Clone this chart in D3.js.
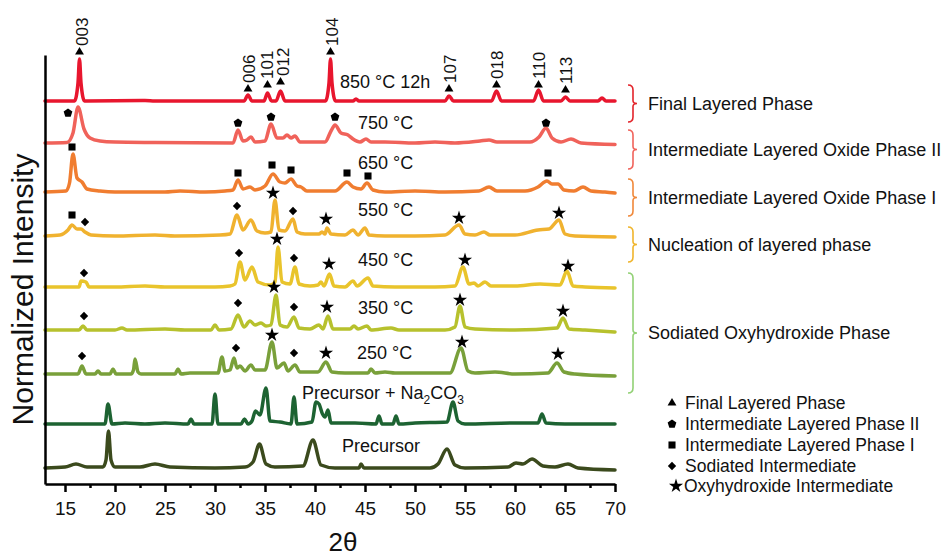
<!DOCTYPE html>
<html>
<head>
<meta charset="utf-8">
<style>
  body { margin: 0; background: #fff; }
  svg { font-family: "Liberation Sans", Arial, sans-serif; }
  .trace { fill: none; stroke-width: 3.5px; stroke-linejoin: round; stroke-linecap: round; }
  .axis path, .axis line { stroke: #000; stroke-width: 2.5px; }
  .axis text { font-size: 19px; fill: #111; font-family: "Liberation Sans", Arial, sans-serif; }
</style>
</head>
<body>
<svg width="946" height="556"></svg>
<script src="https://d3js.org/d3.v7.min.js"></script>
<script>

// sample names, top to bottom
var samples = ["850 °C 12h", "750 °C", "650 °C", "550 °C", "450 °C", "350 °C", "250 °C", "Precursor + Na2CO3", "Precursor"];
var colors = ["#e8162e", "#f0625a", "#f07d30", "#f0b22f", "#e9c42c", "#b7c12d", "#79a03a", "#1d6332", "#3b4a1d"];
// vertical offset of each pattern (intensity units)
var offsets = [383, 341, 292, 248, 197, 154, 110, 60, 16];

// patterns: [2theta, intensity above its own baseline]
var p850 = [[13,0],[15.95,0],[16.3,18],[16.45,42],[16.6,18],[16.95,0],[23,0.5],[24,0],[32.9,0],[33.3,6],[33.7,0],[34.9,0],[35.25,8],[35.65,0],[36.1,0],[36.55,10],[37,0],[41.05,0],[41.4,18],[41.55,42],[41.7,18],[42.05,0],[43.8,0],[44.1,2],[44.4,0],[53,0],[53.4,5],[53.85,0],[57.65,0],[58.15,10],[58.65,0],[61.85,0],[62.35,11],[62.85,0],[64.6,0],[65.05,4],[65.5,0],[68.3,0],[68.7,3],[69.1,0],[70,0]];
var p750 = [[13,0],[15.2,0.5],[15.8,10],[16.3,36],[16.9,14],[17.5,5],[18.5,2],[20,1],[24,0.5],[31.8,0],[32.3,13],[32.8,2],[33.2,3],[33.6,6],[34.0,1],[35.0,2],[35.6,19],[36.2,5],[36.8,5],[37.2,8],[37.6,5],[38.0,7],[38.5,1],[41.0,1],[41.6,12],[42.0,18],[42.6,10],[43.3,8],[43.8,4],[44.5,1],[45.1,4],[45.6,1],[47,1],[50,0],[52,1],[54,0],[56.5,2],[57.4,3],[58.2,1],[61.5,1],[62.4,6],[63.1,15],[63.7,5],[64.6,1],[65.6,4],[66.6,0],[70,-1.5]];
var p650 = [[13,0],[15.1,1],[15.45,9],[15.8,38],[16.2,14],[16.7,10],[17.2,3],[18.5,1],[20,0],[25,0],[26.5,1],[29,0],[31.0,1],[31.8,2],[32.3,12],[32.8,3],[33.5,5],[34.0,2],[35.0,6],[35.8,18],[36.5,10],[37.0,9],[37.6,13],[38.2,6],[38.6,5],[39.2,1],[42,1],[43.2,10],[43.8,5],[44.6,3],[45.2,9],[45.8,2],[47,0],[50,1],[53,0],[56.4,1],[57.4,5],[58.2,1],[61,1],[62.3,5],[63.2,11],[63.7,8],[64.3,8],[64.9,2],[65.9,1],[66.8,5],[67.6,1],[69,0],[70,-1]];
var p550 = [[13,0],[14.5,1],[15.3,6],[15.7,11],[16.2,7],[16.6,7],[17.0,4],[17.6,1],[20,0],[24,1],[26,0],[30.5,1],[31.5,2],[32.2,21],[32.8,6],[33.6,16],[34.2,5],[35.0,3],[35.6,4],[36.0,36],[36.4,6],[37.0,5],[37.8,17],[38.2,4],[39,2],[40.4,2],[40.7,4],[41.0,2],[41.2,8],[41.6,2],[43.0,1],[43.8,6],[44.3,1],[45.0,8],[45.4,1],[47,0],[50,0],[53,1],[54.4,11],[55.0,2],[56.0,1],[56.9,4],[57.5,1],[60,1],[62.3,6],[63.4,7],[64.4,16],[65.0,2],[66,0],[70,-1]];
var p450 = [[13,0],[16.4,0],[16.6,6],[17.1,5],[17.4,0],[20,0],[23,1],[25,0],[30,0],[31.5,1],[32.0,3],[32.5,25],[33.0,7],[33.7,20],[34.3,5],[35.5,2],[36.0,5],[36.3,40],[36.7,5],[37.5,3],[38.0,20],[38.4,3],[39.5,1],[40.3,2],[40.6,5],[40.9,1],[41.45,13],[41.9,1],[43,0],[43.8,6],[44.2,1],[45.3,9],[45.8,1],[48,0],[52,0],[54.0,1],[54.8,20],[55.4,3],[55.9,4],[56.3,1],[57.0,5],[57.6,1],[60,1],[62.5,3],[64.5,2],[65.2,16],[65.8,1],[67,0],[70,-1]];
var p350 = [[13,0],[16.4,0],[16.8,4],[17.2,0],[20,0],[20.7,2],[21.2,0],[25,1],[27,0],[29.6,0],[30.0,5],[30.4,0],[31.6,1],[32.3,15],[32.9,3],[33.5,9],[34.0,5],[34.6,7],[35.1,4],[35.6,5],[36.1,35],[36.5,5],[37.2,3],[37.9,13],[38.4,2],[39.5,1],[40.4,5],[40.8,1],[41.3,14],[41.8,1],[43.5,1],[43.9,4],[44.3,1],[45.2,4],[45.6,0],[47.6,2],[48.4,0],[53,0],[54.0,3],[54.5,24],[55.0,3],[56,1],[60,0],[64.2,2],[64.8,12],[65.4,1],[67,0],[70,-2]];
var p250 = [[13,0],[16.3,0],[16.7,8],[17.1,0],[18.0,0],[18.3,3],[18.6,0],[19.5,0],[19.8,5],[20.1,0],[21.6,0],[21.85,4],[22.0,15],[22.3,2],[22.6,0],[26.0,0],[26.3,5],[26.6,0],[27.5,1],[29,1],[30.3,1],[30.7,17],[31.0,3],[31.5,4],[31.9,16],[32.2,6],[32.5,8],[33.0,3],[33.6,9],[34.0,4],[35.0,4],[35.7,32],[36.2,6],[36.9,11],[37.3,3],[38.0,9],[38.5,2],[40.3,2],[41.1,12],[41.7,2],[43,1],[45.3,1],[45.6,5],[46,1],[47,2],[48,1],[53.5,1],[54.6,26],[55.3,3],[56,1],[58,2],[60,0],[63.3,1],[64.2,11],[64.9,2],[66,0],[70,-2]];
var pNa = [[13,0],[19.0,0],[19.3,20],[19.7,0],[21,1],[23,0],[25,1],[27.3,0],[27.6,5],[27.9,0],[29.7,0],[30.0,30],[30.3,0],[32.6,0],[32.95,5],[33.3,0],[33.7,3],[34.05,13],[34.5,9],[35.1,36],[35.5,3],[36.5,2],[37.6,0],[37.9,27],[38.2,0],[39.7,2],[40.1,22],[40.4,20],[40.75,10],[41.0,7],[41.3,14],[41.6,1],[44,1],[46.1,0],[46.4,8],[46.7,0],[47.8,0],[48.1,8],[48.4,0],[50,1],[53.2,2],[53.8,22],[54.3,3],[55,0],[60,1],[62.3,1],[62.7,10],[63.1,1],[65,0],[70,0]];
var pPre = [[13,0],[15.0,1],[16.1,4],[17.2,1],[18.8,1],[19.1,8],[19.35,37],[19.6,8],[20.0,1],[22.5,1],[24.0,4],[25.5,1],[30,0],[33.0,1],[33.8,6],[34.45,24],[35.1,4],[36,1],[38.8,2],[39.8,28],[40.6,3],[42,0],[44.4,0],[44.6,4],[44.9,0],[51.5,0],[52.3,4],[53.2,19],[54.0,3],[55,0],[59.3,1],[60.1,5],[60.8,4],[61.7,9],[62.8,2],[64.0,1],[65.3,4],[66.3,0],[70,-2]];
var patterns = [p850, p750, p650, p550, p450, p350, p250, pNa, pPre];

// reflection labels on the 850 °C pattern: [2theta, intensity of marker, hkl, label shift in 2theta]
var hkl = [[16.45,49,"003",0.2],[33.3,12,"006",0],[35.25,16,"101",-0.15],[36.55,19,"012",0.2],[41.55,49,"104",0.1],[53.4,12,"107",0],[58.15,16,"018",0],[62.35,16,"110",0],[65.05,11,"113",0]];

// phase markers: [sample index, 2theta, intensity, type]
// types: P = intermediate layered II, S = intermediate layered I, D = sodiated, T = oxyhydroxide
var phaseMarks = [
  [1,15.3,30,"P"],[1,32.3,20,"P"],[1,35.6,26,"P"],[1,42.0,26,"P"],[1,63.1,20,"P"],
  [2,15.7,45,"S"],[2,32.3,19,"S"],[2,35.7,27,"S"],[2,37.6,22,"S"],[2,43.2,19,"S"],[2,45.3,16,"S"],[2,63.3,19,"S"],
  [3,15.7,21,"S"],[3,17.0,14,"D"],[3,32.2,30,"D"],[3,35.8,43,"T"],[3,37.8,25,"D"],[3,41.1,17,"T"],[3,54.4,18,"T"],[3,64.4,23,"T"],
  [4,16.9,14,"D"],[4,32.4,34,"D"],[4,36.2,48,"T"],[4,37.9,29,"D"],[4,41.4,23,"T"],[4,55.0,27,"T"],[4,65.3,21,"T"],
  [5,16.9,14,"D"],[5,32.3,27,"D"],[5,35.9,43,"T"],[5,37.9,23,"D"],[5,41.2,23,"T"],[5,54.5,30,"T"],[5,64.8,19,"T"],
  [6,16.7,18,"D"],[6,32.1,26,"D"],[6,35.7,39,"T"],[6,37.9,21,"D"],[6,41.1,21,"T"],[6,54.7,32,"T"],[6,64.3,20,"T"]
];

// sample label anchor: [2theta, intensity above baseline]
var labelPos = [[42.5,13],[44.3,14],[44.3,23],[44.3,20],[44.3,21],[44.3,16],[44.2,15],[38.7,25],[42.7,16]];

// phase brackets on the right: [top, bottom] in intensity units
var phases = ["Final Layered Phase", "Intermediate Layered Oxide Phase II", "Intermediate Layered Oxide Phase I", "Nucleation of layered phase", "Sodiated Oxyhydroxide Phase"];
var phaseRanges = [[399,362],[354,315],[305,268],[257,222],[211,91]];
var phaseColors = ["#e3242b", "#f0635b", "#f0883a", "#f0b52c", "#92d175"];

var markerLegend = [["A","Final Layered Phase"],["P","Intermediate Layered Phase II"],["S","Intermediate Layered Phase I"],["D","Sodiated Intermediate"],["T","Oxyhydroxide Intermediate"]];

var xTicks = [15,20,25,30,35,40,45,50,55,60,65,70];
var xMinor = [17.5,22.5,27.5,32.5,37.5,42.5,47.5,52.5,57.5,62.5,67.5];

var svg = d3.select("svg");

var x = d3.scaleLinear().domain([13, 70]).range([45, 615]);
var y = d3.scaleLinear().domain([0, 429]).range([484, 55]);

var pentagon = {
  draw: function(ctx, size) {
    var r = Math.sqrt(size / 2.378);
    for (var k = 0; k < 5; k++) {
      var a = -Math.PI / 2 + k * 2 * Math.PI / 5;
      if (k === 0) ctx.moveTo(r * Math.cos(a), r * Math.sin(a));
      else ctx.lineTo(r * Math.cos(a), r * Math.sin(a));
    }
    ctx.closePath();
  }
};
var symbolTypes = {
  A: d3.symbol(d3.symbolTriangle, 34),
  P: d3.symbol(pentagon, 50),
  S: d3.symbol(d3.symbolSquare, 50),
  D: d3.symbol(d3.symbolDiamond2, 44),
  T: d3.symbol(d3.symbolStar, 62)
};

// traces
patterns.forEach(function(pts, i) {
  var line = d3.line()
      .curve(d3.curveMonotoneX)
      .x(function(d) { return x(d[0]); })
      .y(function(d) { return y(offsets[i] + d[1]); });
  svg.append("path")
      .datum(pts)
      .attr("class", "trace")
      .attr("stroke", colors[i])
      .attr("d", line);
});

// axes
svg.append("g")
    .attr("class", "axis")
    .attr("transform", "translate(0," + y(0) + ")")
    .call(d3.axisBottom(x).tickValues(xTicks).tickSize(8).tickSizeOuter(0).tickPadding(10).tickFormat(d3.format("d")));
svg.append("g")
    .attr("class", "axis")
    .attr("transform", "translate(0," + y(0) + ")")
    .call(d3.axisBottom(x).tickValues(xMinor).tickSize(4).tickSizeOuter(0).tickFormat(""))
    .select(".domain").remove();
svg.append("g")
    .attr("class", "axis")
    .attr("transform", "translate(" + x(13) + ",0)")
    .call(d3.axisLeft(y).tickValues([]).tickSizeOuter(0));

svg.append("text")
    .attr("transform", "translate(33," + ((y(0) + y(429)) / 2 + 20) + ") rotate(-90)")
    .attr("text-anchor", "middle")
    .style("font-size", "30px")
    .attr("fill", "#111")
    .text("Normalized Intensity");
svg.append("text")
    .attr("x", 343).attr("y", 551)
    .attr("text-anchor", "middle")
    .style("font-size", "26px")
    .attr("fill", "#111")
    .text("2θ");

// hkl triangles and labels
hkl.forEach(function(d) {
  var cx = x(d[0]), cy = y(offsets[0] + d[1]);
  svg.append("path")
      .attr("d", symbolTypes.A())
      .attr("transform", "translate(" + cx + "," + cy + ")")
      .attr("fill", "#000");
  svg.append("text")
      .attr("transform", "translate(" + (x(d[0] + d[3]) + 1) + "," + (cy - 6) + ") rotate(-90)")
      .attr("dy", "0.35em")
      .style("font-size", "17px")
      .attr("fill", "#111")
      .text(d[2]);
});

// phase markers
svg.append("g").selectAll("path")
  .data(phaseMarks)
  .join("path")
    .attr("d", function(d) { return symbolTypes[d[3]](); })
    .attr("transform", function(d) { return "translate(" + x(d[1]) + "," + y(offsets[d[0]] + d[2]) + ")"; })
    .attr("fill", "#000");

// sample labels
samples.forEach(function(s, i) {
  var t = svg.append("text")
      .attr("x", x(labelPos[i][0]))
      .attr("y", y(offsets[i] + labelPos[i][1]))
      .style("font-size", "18px")
      .attr("fill", "#111");
  if (s === "Precursor + Na2CO3") {
    t.append("tspan").text("Precursor + Na");
    t.append("tspan").attr("dy", 5).style("font-size", "12px").text("2");
    t.append("tspan").attr("dy", -5).text("CO");
    t.append("tspan").attr("dy", 5).style("font-size", "12px").text("3");
  } else {
    t.text(s);
  }
});

// phase brackets
phases.forEach(function(p, i) {
  var top = y(phaseRanges[i][0]), bot = y(phaseRanges[i][1]), mid = (top + bot) / 2;
  var bx = 633;
  svg.append("path")
      .attr("d", "M" + (bx - 5) + "," + top + "Q" + bx + "," + top + " " + bx + "," + (top + 5) +
                 "L" + bx + "," + (mid - 3) + "Q" + bx + "," + mid + " " + (bx + 4) + "," + mid +
                 "Q" + bx + "," + mid + " " + bx + "," + (mid + 3) +
                 "L" + bx + "," + (bot - 5) + "Q" + bx + "," + bot + " " + (bx - 5) + "," + bot)
      .attr("fill", "none")
      .attr("stroke", phaseColors[i])
      .attr("stroke-width", 1.6);
  svg.append("text")
      .attr("x", 648).attr("y", mid)
      .attr("dy", "0.35em")
      .style("font-size", "18px")
      .attr("fill", "#111")
      .text(p);
});

// marker legend
var legY = [403, 424, 445, 466, 486];
markerLegend.forEach(function(d, i) {
  var mx = d[0] === "T" ? 676 : 672;
  svg.append("path")
      .attr("d", symbolTypes[d[0]]())
      .attr("transform", "translate(" + mx + "," + legY[i] + ")")
      .attr("fill", "#000");
  svg.append("text")
      .attr("x", d[0] === "T" ? 684 : 685).attr("y", legY[i])
      .attr("dy", "0.35em")
      .style("font-size", "17.5px")
      .attr("fill", "#111")
      .text(d[1]);
});

</script>
</body>
</html>
